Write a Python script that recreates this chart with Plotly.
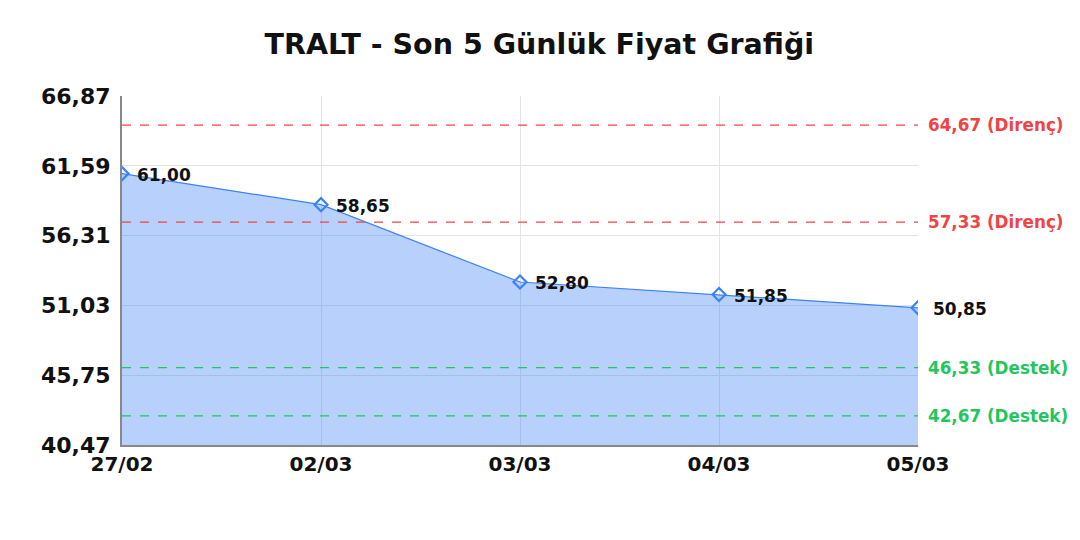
import plotly.graph_objects as go

# data
dates = ["27/02", "02/03", "03/03", "04/03", "05/03"]
prices = [61.00, 58.65, 52.80, 51.85, 50.85]
y_ticks = [40.47, 45.75, 51.03, 56.31, 61.59, 66.87]
levels = [64.67, 57.33, 46.33, 42.67]
level_names = ["Direnç", "Direnç", "Destek", "Destek"]

RED = "#ef4444"
GREEN = "#22c55e"
BLUE = "#3b82f6"
FONT = "DejaVu Sans"

def fmt(v):
    return f"{v:.2f}".replace(".", ",")

fig = go.Figure()
fig.add_trace(go.Scatter(
    x=dates, y=prices,
    mode="lines+markers",
    fill="tozeroy",
    fillcolor="rgba(59,130,246,0.37)",
    line=dict(color=BLUE, width=1.2),
    marker=dict(symbol="diamond-open", size=10, color=BLUE, line=dict(width=2.2)),
    hoverinfo="skip",
    showlegend=False,
))

# value labels next to each point
for d, p in zip(dates, prices):
    fig.add_annotation(x=d, y=p, xanchor="left", yanchor="middle",
                       xshift=13, yshift=-1, showarrow=False, text=fmt(p),
                       font=dict(family=FONT, size=17, color="#111", weight="bold"))

for v, name in zip(levels, level_names):
    col = RED if name == "Direnç" else GREEN
    fig.add_shape(type="line", xref="paper", yref="y", x0=0, x1=1, y0=v, y1=v,
                  line=dict(color=col, width=1.3, dash="dash"))
    fig.add_annotation(xref="paper", yref="y", x=1, y=v, xanchor="left",
                       xshift=8, showarrow=False,
                       text=f"{fmt(v)} ({name})",
                       font=dict(family=FONT, size=16.8, color=col, weight="bold"))

fig.update_layout(
    width=1080, height=540,
    margin=dict(l=114, r=170, t=88, b=103),
    paper_bgcolor="white", plot_bgcolor="white",
    title=dict(text="TRALT - Son 5 Günlük Fiyat Grafiği", x=0.492, xanchor="center",
               xref="container", y=0.933, yanchor="middle",
               font=dict(family=FONT, size=28.5, color="#111", weight="bold")),
)
fig.update_xaxes(
    type="category", range=[0, len(dates) - 1],
    showgrid=True, gridcolor="#e3e3e3", gridwidth=1,
    showline=True, linecolor="#888", linewidth=2,
    ticks="", tickfont=dict(family=FONT, size=20, color="#111", weight="bold"),
    zeroline=False,
)
fig.update_yaxes(
    range=[y_ticks[0], y_ticks[-1]],
    tickvals=y_ticks, ticktext=[fmt(t) for t in y_ticks],
    showgrid=True, gridcolor="#e3e3e3", gridwidth=1,
    showline=True, linecolor="#888", linewidth=2,
    ticks="", ticklabelstandoff=5,
    tickfont=dict(family=FONT, size=22, color="#111", weight="bold"),
    zeroline=False,
)

fig.write_html("out.html")
